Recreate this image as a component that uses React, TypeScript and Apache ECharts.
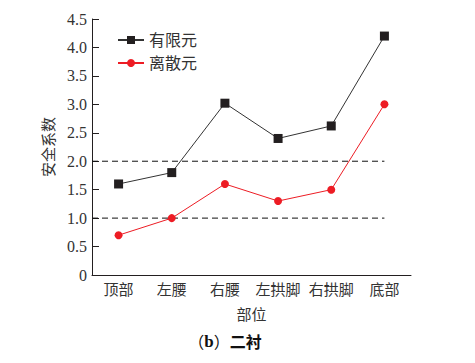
import React, { useEffect, useRef } from "react";
import * as echarts from "echarts";

const categories = ["顶部", "左腰", "右腰", "左拱脚", "右拱脚", "底部"];
const femValues = [1.6, 1.8, 3.02, 2.4, 2.62, 4.2];
const demValues = [0.7, 1.0, 1.6, 1.3, 1.5, 3.0];
const refLevels = [2.0, 1.0];
const seriesNames = ["有限元", "离散元"];

const serif = "'Liberation Serif', 'Times New Roman', serif";
const cjk = "'Liberation Serif', 'Noto Sans CJK SC', serif";
const cjkOnly = "'Noto Sans CJK SC', sans-serif";

export default function App() {
  const ref = useRef<HTMLDivElement>(null);
  useEffect(() => {
    if (!ref.current) return;
    const chart = echarts.init(ref.current, undefined, { renderer: "svg" });
    const lastCenter = categories.length - 0.5;
    chart.setOption({
      animation: false,
      grid: { left: 92, right: 64, top: 19, bottom: 88, containLabel: false },
      legend: {
        data: seriesNames,
        orient: "vertical",
        left: 112,
        top: 27,
        itemWidth: 26,
        itemHeight: 10,
        itemGap: 7,
        textStyle: { fontFamily: cjk, fontSize: 16, color: "#333" },
      },
      xAxis: [
        {
          type: "category",
          data: categories,
          boundaryGap: true,
          name: "部位",
          nameLocation: "middle",
          nameGap: 32,
          nameTextStyle: { fontFamily: cjk, fontSize: 15, color: "#333" },
          axisLine: { lineStyle: { color: "#231f20", width: 1 } },
          axisTick: { alignWithLabel: true, inside: true, length: 6, lineStyle: { color: "#231f20" } },
          axisLabel: { interval: 0, fontFamily: cjk, fontSize: 15, color: "#333", margin: 7 },
        },
        { type: "value", min: 0, max: categories.length, show: false },
      ],
      yAxis: {
        type: "value",
        min: 0,
        max: 4.5,
        interval: 0.5,
        name: "安全系数",
        nameLocation: "middle",
        nameGap: 36,
        nameTextStyle: { fontFamily: cjk, fontSize: 15, color: "#333" },
        axisLine: { show: true, lineStyle: { color: "#231f20", width: 1 } },
        axisTick: { show: true, inside: true, length: 7, lineStyle: { color: "#231f20" } },
        splitLine: { show: false },
        axisLabel: {
          fontFamily: serif,
          fontSize: 16,
          color: "#333",
          margin: 5,
          formatter: (v: number) => (v === 0 ? "0" : v.toFixed(1)),
        },
      },
      series: [
        {
          name: seriesNames[0],
          type: "line",
          data: femValues,
          symbol: "rect",
          symbolSize: 9,
          itemStyle: { color: "#231f20" },
          lineStyle: { color: "#333", width: 1 },
        },
        {
          name: seriesNames[1],
          type: "line",
          data: demValues,
          symbol: "circle",
          symbolSize: 8,
          itemStyle: { color: "#ed1c24" },
          lineStyle: { color: "#ed1c24", width: 1 },
        },
        ...refLevels.map((lv) => ({
          type: "line",
          xAxisIndex: 1,
          data: [
            [0, lv],
            [lastCenter, lv],
          ],
          symbol: "none",
          silent: true,
          lineStyle: { color: "#111", width: 1, type: [6, 4] },
        })),
      ],
      graphic: [
        {
          type: "text",
          x: 225,
          y: 341,
          style: {
            text: "{p|（}{a|b}{p|）}{b|二衬}",
            align: "center",
            verticalAlign: "middle",
            rich: {
              p: { fontFamily: cjkOnly, fontSize: 16, fill: "#111" },
              a: { fontFamily: serif, fontWeight: "bold", fontSize: 17, fill: "#111" },
              b: { fontFamily: cjkOnly, fontWeight: "bold", fontSize: 16, fill: "#111" },
            },
          },
        },
      ],
    });
    return () => chart.dispose();
  }, []);
  return <div ref={ref} style={{ width: 475, height: 363, position: "absolute", left: 0, top: 0 }} />;
}
